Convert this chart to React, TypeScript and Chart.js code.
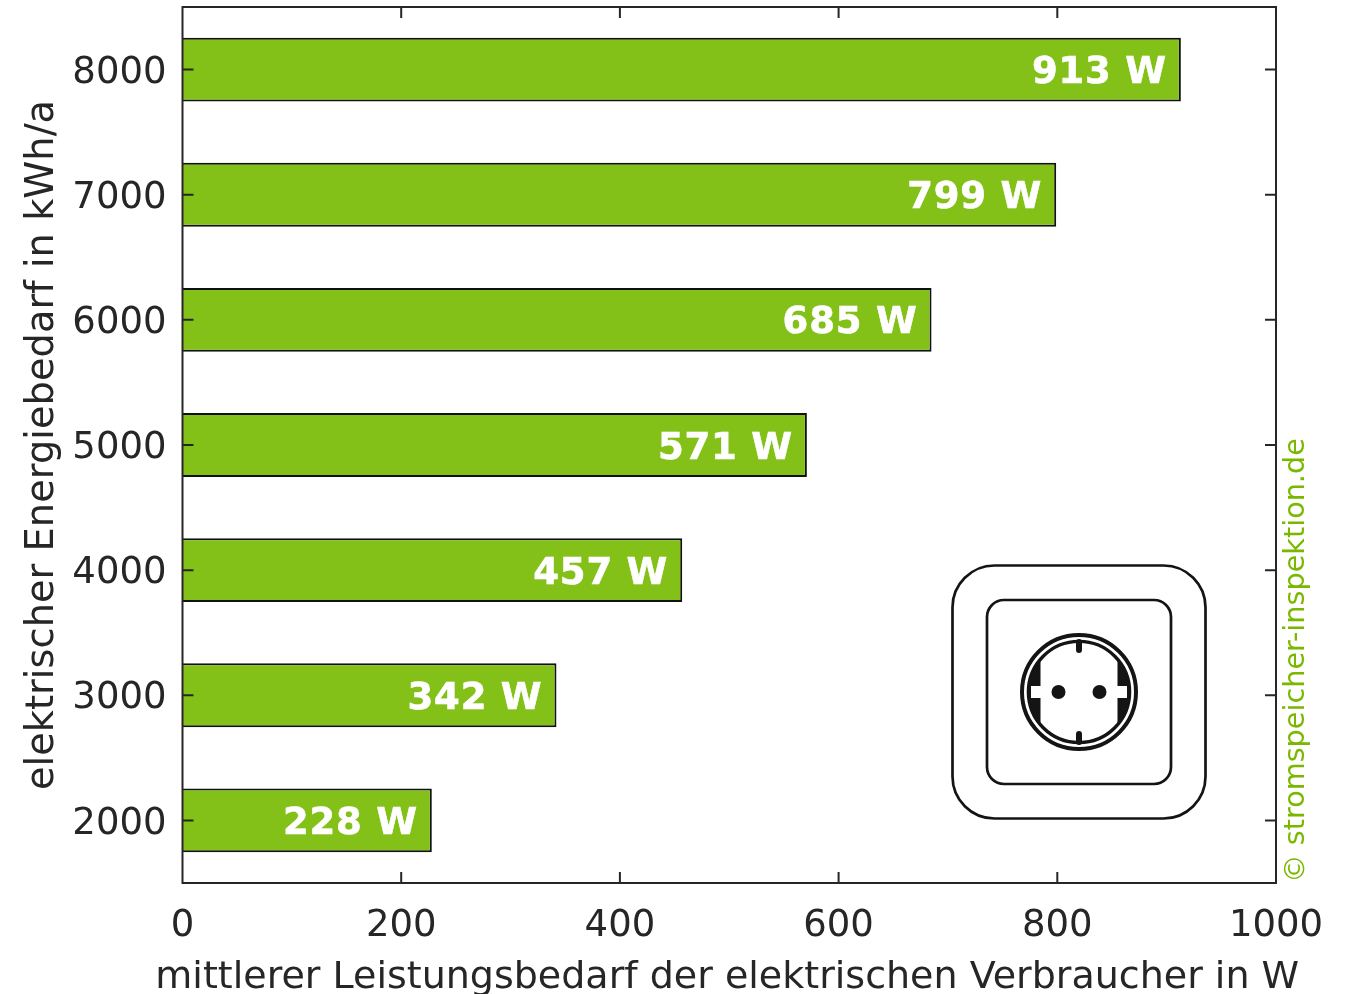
import React, { useEffect, useRef } from "react";
import { Chart, registerables } from "chart.js";

Chart.register(...registerables);

const energyKWh = ["2000", "3000", "4000", "5000", "6000", "7000", "8000"];
const powerW = [228, 342, 457, 571, 685, 799, 913];
const xTicks = [0, 200, 400, 600, 800, 1000];
const xTitle = "mittlerer Leistungsbedarf der elektrischen Verbraucher in W";
const yTitle = "elektrischer Energiebedarf in kWh/a";
const watermark = "© stromspeicher-inspektion.de";

const INK = "#262626";
const GREEN = "#84c118";
const FONT = "'DejaVu Sans'";

const framePlugin = {
  id: "frame",
  afterDatasetsDraw(chart: any) {
    const { ctx, chartArea: a, scales } = chart;
    const len = 11;
    ctx.save();
    ctx.strokeStyle = INK;
    ctx.lineWidth = 2;
    ctx.beginPath();
    ctx.rect(a.left, a.top, a.right - a.left, a.bottom - a.top);
    scales.x.ticks.forEach((_: any, i: number) => {
      const p = scales.x.getPixelForTick(i);
      ctx.moveTo(p, a.bottom);
      ctx.lineTo(p, a.bottom - len);
      ctx.moveTo(p, a.top);
      ctx.lineTo(p, a.top + len);
    });
    scales.y.ticks.forEach((_: any, i: number) => {
      const p = scales.y.getPixelForTick(i);
      ctx.moveTo(a.left, p);
      ctx.lineTo(a.left + len, p);
      ctx.moveTo(a.right, p);
      ctx.lineTo(a.right - len, p);
    });
    ctx.stroke();
    ctx.restore();
  },
};

const xTitlePlugin = {
  id: "xTitle",
  afterDraw(chart: any) {
    const { ctx, chartArea: a } = chart;
    ctx.save();
    ctx.fillStyle = INK;
    ctx.font = `38px ${FONT}`;
    ctx.textAlign = "center";
    ctx.textBaseline = "alphabetic";
    ctx.fillText(xTitle, (a.left + a.right) / 2 - 2, a.bottom + 105);
    ctx.restore();
  },
};

const valueLabelPlugin = {
  id: "valueLabels",
  afterDraw(chart: any) {
    const { ctx } = chart;
    ctx.save();
    ctx.fillStyle = "#ffffff";
    ctx.strokeStyle = "#ffffff";
    ctx.lineWidth = 0.6;
    ctx.font = `bold 37px ${FONT}`;
    (ctx as any).letterSpacing = "0.8px";
    ctx.textAlign = "right";
    ctx.textBaseline = "middle";
    chart.getDatasetMeta(0).data.forEach((bar: any, i: number) => {
      const label = `${powerW[i]} W`;
      ctx.fillText(label, bar.x - 14, bar.y + 4);
      ctx.strokeText(label, bar.x - 14, bar.y + 4);
    });
    ctx.restore();
  },
};

const watermarkPlugin = {
  id: "watermark",
  afterDraw(chart: any) {
    const { ctx, chartArea: a } = chart;
    ctx.save();
    ctx.translate(a.right + 21, a.bottom);
    ctx.rotate(-Math.PI / 2);
    ctx.fillStyle = "#7ab800";
    ctx.font = `28.7px ${FONT}`;
    ctx.textAlign = "left";
    ctx.textBaseline = "middle";
    ctx.fillText(watermark, 0, 0);
    ctx.restore();
  },
};

const socketPlugin = {
  id: "socket",
  afterDraw(chart: any) {
    const { ctx, chartArea: a } = chart;
    const cx = a.left + 896.5;
    const cy = a.top + 685;
    const ink = "#141414";
    ctx.save();
    ctx.strokeStyle = ink;
    ctx.fillStyle = ink;
    ctx.lineWidth = 2.7;
    ctx.beginPath();
    ctx.roundRect(cx - 126.5, cy - 126.5, 253, 253, 42);
    ctx.stroke();
    ctx.beginPath();
    ctx.roundRect(cx - 92, cy - 92, 184, 184, 17);
    ctx.stroke();
    ctx.lineWidth = 4;
    ctx.beginPath();
    ctx.arc(cx, cy, 57, 0, Math.PI * 2);
    ctx.stroke();
    ctx.lineWidth = 3.4;
    ctx.beginPath();
    ctx.arc(cx, cy, 50.6, 0, Math.PI * 2);
    ctx.stroke();
    // side wedges
    ctx.save();
    ctx.beginPath();
    ctx.arc(cx, cy, 50.6, 0, Math.PI * 2);
    ctx.clip();
    ctx.fillRect(cx - 60, cy - 60, 21.5, 120);
    ctx.fillRect(cx + 38.5, cy - 60, 21.5, 120);
    ctx.restore();
    // notches
    ctx.fillStyle = "#ffffff";
    ctx.fillRect(cx - 48, cy - 6, 10, 12);
    ctx.fillRect(cx + 38, cy - 6, 10, 12);
    // earth pins
    ctx.fillStyle = ink;
    ctx.lineCap = "round";
    ctx.lineWidth = 6;
    ctx.beginPath();
    ctx.moveTo(cx, cy - 50);
    ctx.lineTo(cx, cy - 42);
    ctx.moveTo(cx, cy + 50);
    ctx.lineTo(cx, cy + 42);
    ctx.stroke();
    // holes
    ctx.beginPath();
    ctx.arc(cx - 20.5, cy, 7, 0, Math.PI * 2);
    ctx.arc(cx + 20.5, cy, 7, 0, Math.PI * 2);
    ctx.fill();
    ctx.restore();
  },
};

export default function App() {
  const ref = useRef<HTMLCanvasElement | null>(null);
  useEffect(() => {
    const chart = new Chart(ref.current as HTMLCanvasElement, {
      type: "bar",
      data: {
        labels: energyKWh,
        datasets: [
          {
            data: powerW,
            backgroundColor: GREEN,
            borderColor: "#111111",
            borderWidth: 2,
            barPercentage: 0.51,
            categoryPercentage: 1,
          },
        ],
      },
      options: {
        indexAxis: "y",
        animation: false,
        responsive: false,
        layout: { autoPadding: false, padding: { top: 7, right: 71, left: 0, bottom: 0 } },
        plugins: { legend: { display: false }, tooltip: { enabled: false } },
        scales: {
          x: {
            type: "linear",
            min: 0,
            max: 1000,
            afterBuildTicks(scale: any) {
              scale.ticks = xTicks.map((value) => ({ value }));
            },
            afterFit(scale: any) {
              scale.height = 111;
              scale.paddingLeft = 0;
              scale.paddingRight = 0;
            },
            grid: { display: false },
            border: { display: false },
            ticks: {
              color: INK,
              font: { family: FONT, size: 37 },
              padding: 13,
              maxRotation: 0,
              autoSkip: false,
              callback: (value: any) => String(value),
            },
          },
          y: {
            type: "category",
            reverse: true,
            afterFit(scale: any) {
              scale.width = 182.5;
              scale.paddingTop = 0;
              scale.paddingBottom = 0;
            },
            grid: { display: false },
            border: { display: false },
            ticks: {
              color: INK,
              font: { family: FONT, size: 37 },
              padding: 8,
              labelOffset: 3.5,
              autoSkip: false,
            },
            title: {
              display: true,
              text: yTitle,
              color: INK,
              font: { family: FONT, size: 38.4 },
              padding: { top: 20, bottom: 0 },
            },
          },
        },
      },
      plugins: [framePlugin, xTitlePlugin, valueLabelPlugin, watermarkPlugin, socketPlugin],
    } as any);
    return () => chart.destroy();
  }, []);
  return (
    <div style={{ position: "absolute", left: 0, top: 0, width: 1347, height: 994, overflow: "hidden" }}>
      <canvas ref={ref} width={1347} height={994} style={{ display: "block" }} />
    </div>
  );
}
